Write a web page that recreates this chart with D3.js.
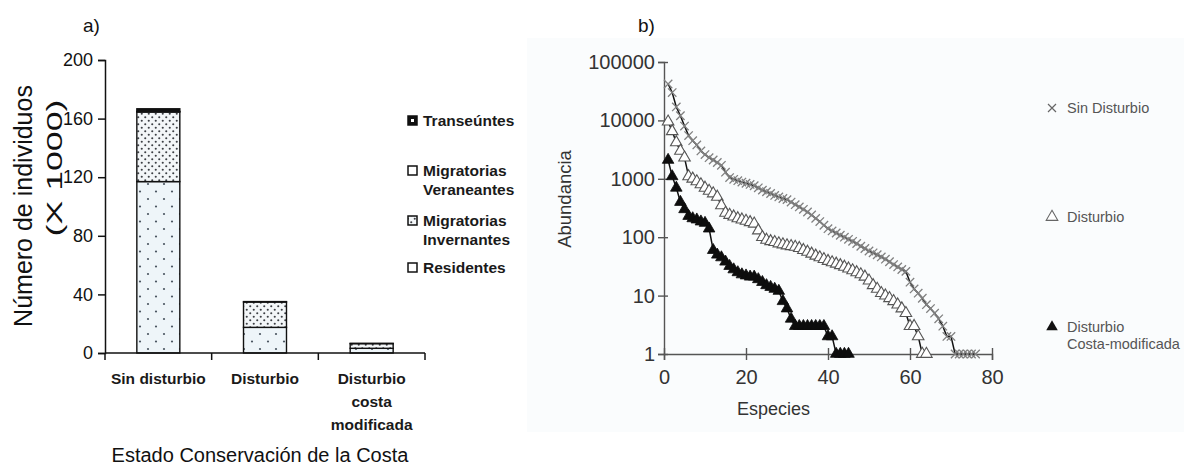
<!DOCTYPE html>
<html>
<head>
<meta charset="utf-8">
<script src="https://cdn.jsdelivr.net/npm/d3@7"></script>
<style>
  html, body { margin: 0; padding: 0; background: #ffffff; }
  svg { display: block; font-family: "Liberation Sans", Arial, sans-serif; }
</style>
</head>
<body>
<svg id="chart" width="1184" height="466"></svg>
<script>
// ---- Panel a: stacked bars (individuals x 1000) ----
const categories = ["Sin disturbio", "Disturbio", "Disturbio costa modificada"];
const categoryLines = [["Sin disturbio"], ["Disturbio"], ["Disturbio", "costa", "modificada"]];
const residentes  = [117, 17.5, 3.2];
const invernantes = [47.5, 17.3, 3.2];
const veraneantes = [0.4, 0, 0];
const transeuntes = [1.8, 0.3, 0.2];
const yTicksA = [0, 40, 80, 120, 160, 200];
const legendA = [
  { key: "transeuntes", lines: ["Transeúntes"] },
  { key: "veraneantes", lines: ["Migratorias", "Veraneantes"] },
  { key: "invernantes", lines: ["Migratorias", "Invernantes"] },
  { key: "residentes",  lines: ["Residentes"] }
];

// ---- Panel b: rank-abundance curves ----
const sinDisturbio = [42000, 30000, 17000, 12000, 8000, 5500, 4500, 3800, 3000, 2600,
  2300, 2100, 1900, 1700, 1300, 1050, 980, 930, 880, 840,
  800, 760, 700, 640, 600, 560, 520, 490, 460, 440,
  400, 360, 330, 300, 270, 240, 210, 185, 160, 140,
  128, 118, 108, 100, 92, 85, 78, 70, 64, 58,
  54, 50, 46, 42, 38, 34, 31, 28, 26, 17,
  13, 11, 9, 7, 6, 5, 4, 3, 2, 2,
  1, 1, 1, 1, 1, 1];
const disturbio = [9500, 6500, 4200, 3000, 2300, 1100, 1000, 900, 800, 700,
  620, 560, 490, 350, 260, 240, 225, 210, 200, 190,
  180, 170, 130, 100, 90, 85, 82, 78, 75, 72,
  70, 68, 65, 60, 56, 52, 48, 45, 42, 39,
  37, 35, 33, 31, 29, 27, 25, 23, 21, 18,
  15, 13, 11, 10, 9, 8, 7, 6, 5, 3,
  3, 2, 1, 1];
const costaModificada = [2100, 1100, 700, 400, 300, 230, 210, 200, 185, 175,
  140, 60, 50, 45, 38, 32, 28, 25, 23, 22,
  21, 21, 19, 17, 15, 14, 13, 12, 8, 6,
  4, 3, 3, 3, 3, 3, 3, 3, 3, 2,
  2, 1, 1, 1, 1];
const yTicksB = [1, 10, 100, 1000, 10000, 100000];
const xTicksB = [0, 20, 40, 60, 80];
const legendB = [
  { key: "sin", lines: ["Sin Disturbio"] },
  { key: "dist", lines: ["Disturbio"] },
  { key: "costa", lines: ["Disturbio", "Costa-modificada"] }
];

const svg = d3.select("#chart");
const defs = svg.append("defs");

// fill patterns
const pRes = defs.append("pattern").attr("id", "pRes").attr("patternUnits", "userSpaceOnUse")
  .attr("width", 16).attr("height", 15);
pRes.append("rect").attr("width", 16).attr("height", 15).attr("fill", "#eef5f9");
pRes.append("circle").attr("cx", 4).attr("cy", 4).attr("r", 1.1).attr("fill", "#4a5560");
pRes.append("circle").attr("cx", 12).attr("cy", 11.5).attr("r", 1.1).attr("fill", "#4a5560");

const pInv = defs.append("pattern").attr("id", "pInv").attr("patternUnits", "userSpaceOnUse")
  .attr("width", 7).attr("height", 7);
pInv.append("rect").attr("width", 7).attr("height", 7).attr("fill", "#f3f6f8");
pInv.append("circle").attr("cx", 1.75).attr("cy", 1.75).attr("r", 1.05).attr("fill", "#3c3f44");
pInv.append("circle").attr("cx", 5.25).attr("cy", 5.25).attr("r", 1.05).attr("fill", "#3c3f44");

const fills = { residentes: "url(#pRes)", invernantes: "url(#pInv)", veraneantes: "#ffffff", transeuntes: "#111111" };

// faint backdrop of panel b
svg.append("rect").attr("x", 527).attr("y", 38).attr("width", 657).attr("height", 394)
  .attr("fill", "#fafcfd");

// ================= Panel a =================
const gA = svg.append("g");
const xA = d3.scaleBand().domain(categories).range([105, 425]).paddingInner(0.597).paddingOuter(0.2985);
const yA = d3.scaleLinear().domain([0, 200]).range([353, 60]);

const tableA = categories.map((c, i) => ({
  cat: c, residentes: residentes[i], invernantes: invernantes[i],
  veraneantes: veraneantes[i], transeuntes: transeuntes[i]
}));
const keys = ["residentes", "invernantes", "veraneantes", "transeuntes"];
const stacked = d3.stack().keys(keys)(tableA);

stacked.forEach(layer => {
  gA.append("g").selectAll("rect").data(layer).join("rect")
    .attr("x", d => xA(d.data.cat))
    .attr("width", xA.bandwidth())
    .attr("y", d => yA(d[1]))
    .attr("height", d => Math.max(0, yA(d[0]) - yA(d[1])))
    .attr("fill", fills[layer.key])
    .attr("stroke", "#111").attr("stroke-width", 1.4);
});

// y axis
const axA = gA.append("g").attr("transform", "translate(105,0)")
  .call(d3.axisLeft(yA).tickValues(yTicksA).tickSize(7).tickPadding(5));
axA.select(".domain").attr("stroke", "#111").attr("stroke-width", 1.5);
axA.selectAll(".tick line").attr("stroke", "#111").attr("stroke-width", 1.5);
axA.selectAll(".tick text").attr("font-size", 18).attr("fill", "#111")
  .attr("font-family", "'Liberation Sans', Arial, sans-serif");

// x axis with ticks at category boundaries
const x0 = xA.range()[0];
const bounds = d3.range(categories.length + 1).map(i => x0 + i * xA.step());
gA.append("line").attr("x1", 105).attr("x2", 425).attr("y1", yA(0)).attr("y2", yA(0))
  .attr("stroke", "#111").attr("stroke-width", 1.5);
gA.selectAll(".bt").data(bounds).join("line")
  .attr("x1", d => d).attr("x2", d => d).attr("y1", yA(0)).attr("y2", yA(0) + 7)
  .attr("stroke", "#111").attr("stroke-width", 1.5);

// category labels
categoryLines.forEach((lines, i) => {
  const cx = xA(categories[i]) + xA.bandwidth() / 2;
  lines.forEach((t, j) => {
    gA.append("text").attr("x", cx).attr("y", 384 + j * 23)
      .attr("text-anchor", "middle").attr("font-size", 15.5).attr("font-weight", "bold")
      .attr("fill", "#1a1a1a").text(t);
  });
});

gA.append("text").attr("x", 260).attr("y", 462).attr("text-anchor", "middle")
  .attr("font-size", 20).attr("fill", "#111").text("Estado Conservación de la Costa");

gA.append("text").attr("transform", "translate(32,206) rotate(-90)")
  .attr("text-anchor", "middle").attr("font-size", 25).attr("fill", "#111")
  .text("Número de individuos");
gA.append("text").attr("transform", "translate(62,168) rotate(-90)")
  .attr("text-anchor", "middle").attr("font-size", 22).attr("fill", "#111")
  .attr("textLength", 137).attr("lengthAdjust", "spacingAndGlyphs")
  .text("(X 1000)");

gA.append("text").attr("x", 83).attr("y", 32).attr("font-size", 19).attr("fill", "#111").text("a)");

// legend a
const legAY = { transeuntes: [126], veraneantes: [176, 195], invernantes: [226, 245], residentes: [273] };
legendA.forEach(item => {
  const ys = legAY[item.key];
  const sy = ys[0] - 10;
  gA.append("rect").attr("x", 408).attr("y", sy).attr("width", 9).attr("height", 9)
    .attr("fill", item.key === "residentes" ? "#ffffff" : fills[item.key])
    .attr("stroke", "#111").attr("stroke-width", 1.5);
  if (item.key === "transeuntes") {
    gA.append("rect").attr("x", 411).attr("y", sy + 3).attr("width", 3).attr("height", 3).attr("fill", "#fff");
  }
  item.lines.forEach((t, j) => {
    gA.append("text").attr("x", 423).attr("y", ys[j]).attr("font-size", 15.5)
      .attr("font-weight", "bold").attr("fill", "#1a1a1a").text(t);
  });
});

// ================= Panel b =================
const gB = svg.append("g");
const xB = d3.scaleLinear().domain([0, 80]).range([664, 992]);
const yB = d3.scaleLog().domain([1, 100000]).range([354, 62]);

const axBy = gB.append("g").attr("transform", "translate(664,0)")
  .call(d3.axisLeft(yB).tickValues(yTicksB).tickFormat(d3.format("d")).tickSize(6).tickPadding(3));
axBy.select(".domain").attr("stroke", "#555").attr("stroke-width", 1.4);
axBy.selectAll(".tick line").attr("stroke", "#555").attr("stroke-width", 1.4).attr("x2", -6).attr("x1", 4);
axBy.selectAll(".tick text").attr("font-size", 20).attr("fill", "#333")
  .attr("font-family", "'Liberation Sans', Arial, sans-serif");

const axBx = gB.append("g").attr("transform", "translate(0,354)")
  .call(d3.axisBottom(xB).tickValues(xTicksB).tickSize(6).tickPadding(10));
axBx.select(".domain").attr("stroke", "#555").attr("stroke-width", 1.4);
axBx.selectAll(".tick line").attr("stroke", "#555").attr("stroke-width", 1.4).attr("y1", -6).attr("y2", 6);
axBx.selectAll(".tick text").attr("font-size", 20).attr("fill", "#333")
  .attr("font-family", "'Liberation Sans', Arial, sans-serif");

gB.append("text").attr("x", 737).attr("y", 415).attr("font-size", 18).attr("fill", "#333").text("Especies");
gB.append("text").attr("transform", "translate(571,199) rotate(-90)").attr("text-anchor", "middle")
  .attr("font-size", 18.5).attr("fill", "#333").text("Abundancia");
gB.append("text").attr("x", 638).attr("y", 32).attr("font-size", 19).attr("fill", "#111").text("b)");

const line = d3.line().x((d, i) => xB(i + 1)).y(d => yB(d));
const crossPath = s => `M${-s},${-s}L${s},${s}M${-s},${s}L${s},${-s}`;
const tri = d3.symbol().type(d3.symbolTriangle).size(58);

function drawSeries(values, kind) {
  const g = gB.append("g");
  g.append("path").datum(values).attr("d", line).attr("fill", "none")
    .attr("stroke", "#111").attr("stroke-width", 1.5);
  const pts = g.selectAll("path.m").data(values).join("path").attr("class", "m")
    .attr("transform", (d, i) => `translate(${xB(i + 1)},${yB(d)})`);
  if (kind === "sin") {
    pts.attr("d", crossPath(4.2)).attr("stroke", "#808080").attr("stroke-width", 1.3).attr("fill", "none");
  } else if (kind === "dist") {
    pts.attr("d", tri()).attr("fill", "#ffffff").attr("stroke", "#555").attr("stroke-width", 1.1);
  } else {
    pts.attr("d", tri()).attr("fill", "#0d0d0d").attr("stroke", "#0d0d0d").attr("stroke-width", 0.8);
  }
}
drawSeries(sinDisturbio, "sin");
drawSeries(disturbio, "dist");
drawSeries(costaModificada, "costa");

// legend b
const legBY = { sin: [113], dist: [222], costa: [332, 349] };
legendB.forEach(item => {
  const ys = legBY[item.key];
  const mg = gB.append("path").attr("transform", `translate(1052,${ys[0] - 5})`);
  if (item.key === "sin") {
    mg.attr("d", crossPath(4)).attr("stroke", "#666").attr("stroke-width", 1.2).attr("fill", "none");
  } else if (item.key === "dist") {
    mg.attr("d", tri()).attr("fill", "#fff").attr("stroke", "#666").attr("stroke-width", 1.1);
  } else {
    mg.attr("d", tri()).attr("fill", "#111");
  }
  item.lines.forEach((t, j) => {
    gB.append("text").attr("x", 1067).attr("y", ys[j]).attr("font-size", 14.5)
      .attr("fill", "#555").text(t);
  });
});
</script>
</body>
</html>
